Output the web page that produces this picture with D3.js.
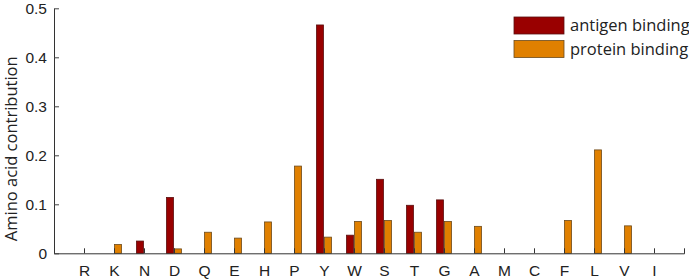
<!DOCTYPE html>
<html><head><meta charset="utf-8">
<script src="https://cdn.jsdelivr.net/npm/d3@7"></script>
<style>body{margin:0;background:#fff}svg{display:block;font-family:"Open Sans",sans-serif}</style>
</head><body><svg id="c" width="689" height="279"></svg>
<script>
const categories = ["R","K","N","D","Q","E","H","P","Y","W","S","T","G","A","M","C","F","L","V","I"];
const antigen = [0,0,0.025,0.114,0,0,0,0,0.466,0.037,0.151,0.098,0.109,0,0,0,0,0,0,0];
const protein = [0,0.018,0,0.009,0.043,0.031,0.064,0.178,0.033,0.065,0.067,0.043,0.065,0.055,0,0,0.067,0.211,0.056,0];
const seriesNames = ["antigen binding","protein binding"];
const colors = ["#990000","#e08000"];
const yTicks = [0,0.1,0.2,0.3,0.4,0.5];

const svg = d3.select("#c");
const x = d3.scaleLinear().domain([0, categories.length + 1]).range([54, 684]);
const y = d3.scaleLinear().domain([0, 0.5]).range([253.3, 8.3]);
const bw = 0.235;
const strokes = ["#5a1010", "#6b4a1c"];

const series = [antigen, protein];
series.forEach((vals, s) => {
  const pts = vals.map((v, i) => ({v, i})).filter(d => d.v > 0);
  svg.append("g").selectAll("rect").data(pts).join("rect")
    .attr("x", d => x(d.i + 1 + (s === 0 ? -bw : 0)) + (s === 0 ? -0.5 : 0.5))
    .attr("width", x(bw) - x(0))
    .attr("y", d => y(d.v))
    .attr("height", d => y(0) - y(d.v))
    .attr("fill", colors[s])
    .attr("stroke", strokes[s])
    .attr("stroke-width", 0.8);
});

// x axis
const xa = svg.append("g").attr("transform", `translate(0,${y(0)})`)
  .call(d3.axisBottom(x).tickValues(d3.range(1, categories.length + 1))
    .tickFormat(d => categories[d - 1]).tickSizeInner(-5).tickSizeOuter(-5).tickPadding(12));
xa.select(".domain").attr("stroke", "#333");
xa.selectAll(".tick line").attr("stroke", "#333");
xa.selectAll("text").attr("font-size", 15.5).attr("fill", "#222");

// y axis
const ya = svg.append("g").attr("transform", `translate(${x(0)},0)`)
  .call(d3.axisLeft(y).tickValues(yTicks).tickFormat(d => d === 0 ? "0" : d3.format(".1f")(d))
    .tickSizeInner(-5).tickSizeOuter(0).tickPadding(7));
ya.select(".domain").attr("stroke", "#333");
ya.selectAll(".tick line").attr("stroke", "#444");
ya.selectAll("text").attr("font-size", 15.5).attr("fill", "#222");

svg.append("text").attr("transform", `translate(17,${(y(0)+y(0.5))/2 + 18}) rotate(-90)`)
  .attr("text-anchor", "middle").attr("font-size", 16.5).attr("fill", "#222")
  .text("Amino acid contribution");

// legend
const lg = svg.append("g");
seriesNames.forEach((n, i) => {
  lg.append("rect").attr("x", 514).attr("y", 17 + i * 23.5).attr("width", 50).attr("height", 17)
    .attr("fill", colors[i]).attr("stroke", strokes[i]).attr("stroke-width", 0.8);
  lg.append("text").attr("x", 570).attr("y", 31 + i * 23.5).attr("font-size", 16.5).attr("fill", "#222").text(n);
});
</script></body></html>
